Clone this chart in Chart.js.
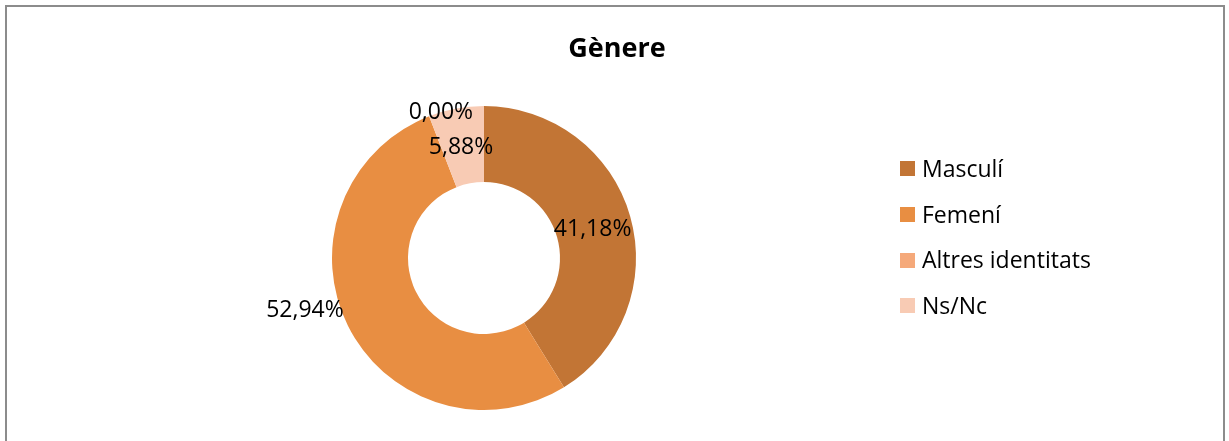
<!DOCTYPE html>
<html>
<head>
<meta charset="utf-8">
<script src="https://cdn.jsdelivr.net/npm/chart.js@4"></script>
<style>
  html, body { margin: 0; padding: 0; background: #fff; }
  .wrap { position: relative; width: 1229px; height: 441px; overflow: hidden; }
  .frame { position: absolute; left: 5px; top: 5px; width: 1220px; height: 450px;
           border: 2px solid #8c8c8c; box-sizing: border-box; }
  canvas { position: absolute; left: 0; top: 0; }
  .title { position: absolute; left: 517px; top: 27px; width: 200px; text-align: center;
           font-family: 'Open Sans', sans-serif; font-weight: bold; font-size: 27px;
           line-height: 40px; color: #000; }
  .legend { position: absolute; left: 900px; top: 146px; font-family: 'Open Sans', sans-serif;
            font-size: 23px; color: #000; }
  .legend-item { height: 45.7px; line-height: 45.7px; display: flex; align-items: center; white-space: nowrap; }
  .ldot { width: 15px; height: 15px; margin-right: 7px; flex: none; }
</style>
</head>
<body>
<div class="wrap">
  <div class="frame"></div>
  <canvas id="genChart" width="1229" height="441"></canvas>
  <div class="title">Gènere</div>
  <div class="legend" id="legend"></div>
</div>
<script>
const categories = ['Masculí', 'Femení', 'Altres identitats', 'Ns/Nc'];
const values = [41.18, 52.94, 0.00, 5.88];
const colors = ['#C27535', '#E88E42', '#F5A97A', '#F8CBB4'];

// nudges for labels, same as the original placement
const labelShift = [[-1, 3], [-77, 2], [-2, -39], [-2, 2]];

const fmt = v => v.toFixed(2).replace('.', ',') + '%';

const labelPlugin = {
  id: 'sliceLabels',
  afterDatasetsDraw(chart) {
    const ctx = chart.ctx;
    const meta = chart.getDatasetMeta(0);
    ctx.save();
    ctx.font = '23px "Open Sans", sans-serif';
    ctx.fillStyle = '#000';
    ctx.textAlign = 'center';
    ctx.textBaseline = 'middle';
    meta.data.forEach((arc, i) => {
      const p = arc.tooltipPosition();
      ctx.fillText(fmt(values[i]), p.x + labelShift[i][0], p.y + labelShift[i][1]);
    });
    ctx.restore();
  }
};

new Chart(document.getElementById('genChart'), {
  type: 'doughnut',
  data: {
    labels: categories,
    datasets: [{
      data: values,
      backgroundColor: colors,
      borderWidth: 0
    }]
  },
  options: {
    responsive: false,
    animation: false,
    cutout: '50%',
    layout: { padding: { left: 332, right: 593, top: 106, bottom: 31 } },
    plugins: {
      legend: { display: false },
      tooltip: { enabled: false }
    }
  },
  plugins: [labelPlugin]
});

const legend = document.getElementById('legend');
categories.forEach((c, i) => {
  const row = document.createElement('div');
  row.className = 'legend-item';
  row.innerHTML = '<span class="ldot" style="background:' + colors[i] + '"></span>' + c;
  legend.appendChild(row);
});
</script>
</body>
</html>
